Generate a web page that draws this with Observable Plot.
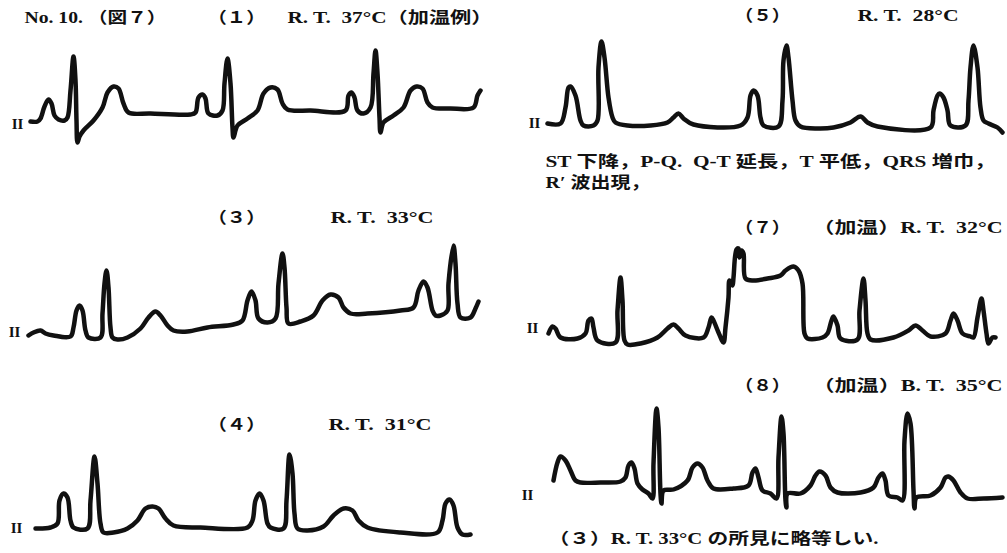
<!DOCTYPE html>
<html>
<head>
<meta charset="utf-8">
<script src="https://cdn.jsdelivr.net/npm/d3@7"></script>
<script src="https://cdn.jsdelivr.net/npm/@observablehq/plot@0.6"></script>
<style>
  html, body { margin: 0; padding: 0; background: #fff; }
  #chart { width: 1007px; height: 553px; overflow: hidden; }
</style>
</head>
<body>
<div id="chart"></div>
<script>
// ---- Trace data: t = time (sample units along the strip), v = amplitude above baseline ----
// (1) R.T. 37°C
const t1 = [0,7,10,14,18,21,24,28,34,37,40,43,45,46,47,49,53,63,72,77,83,88,93,98,120,160,165,168,172,175,178,187,192,194,197,200,202,203,207,217,227,233,240,247,252,257,280,315,318,321,324,327,333,340,343,345,347,349,350,353,363,373,380,386,392,397,402,420,443,447,450];
const v1 = [-1,-1,2,14,21,17,5,1,0,3,30,64,40,0,-22,-16,-10,0,13,28,34,32,17,8,7,6,8,23,26,22,7,5,10,37,62,37,-7,-17,-5,2,10,27,33,31,17,11,10,10,25,28,23,10,7,13,47,70,47,3,-12,-2,5,13,30,34,32,18,13,12,13,25,30];
// (5) R.T. 28°C
const t5 = [0,13,18,21,23,28,33,36,46,50,51,54,57,61,65,68,80,103,120,126,131,136,146,193,200,203,206,210,213,216,231,235,236,239,241,245,248,253,270,286,303,313,320,330,383,386,390,392,396,400,403,418,421,423,426,430,433,436,441,450,455];
const v5 = [2,2,18,38,39,30,5,0,0,5,58,84,68,28,8,3,0,0,3,8,12,7,1,0,8,30,35,30,8,0,-1,25,65,80,68,25,5,-1,-3,-2,3,9,3,-1,-2,15,30,32,28,15,0,0,25,58,80,58,18,5,2,-2,-7];
// (3) R.T. 33°C
const t3 = [0,5,12,17,25,42,45,48,51,54,57,60,72,74,76,78,80,82,84,89,99,112,120,127,132,139,145,159,179,205,214,219,223,227,230,239,247,250,254,256,258,260,272,285,294,302,310,315,322,339,372,385,390,395,399,404,407,412,419,420,425,427,429,432,442,447,450];
const v3 = [0,3,5,2,0,-1,8,25,30,25,5,-2,-2,22,52,65,48,8,-2,-4,-2,7,18,24,20,10,5,4,8,11,15,35,44,35,17,13,17,52,82,68,28,12,14,20,35,41,38,28,22,22,25,28,45,54,48,25,20,20,25,52,90,72,32,18,18,27,34];
// (4) R.T. 31°C
const t4 = [0,15,22,24,28,32,35,38,52,55,59,62,65,68,78,92,102,110,117,123,130,138,165,212,217,220,224,228,232,235,248,251,254,257,259,262,272,288,298,308,317,323,332,365,402,407,410,414,418,422,427,435];
const v4 = [0,1,5,28,35,31,8,1,0,28,72,45,5,-4,-4,0,8,20,22,20,10,3,1,1,8,28,35,28,5,1,0,28,74,55,15,0,-2,2,13,20,18,8,1,-4,-4,8,25,29,23,1,-6,-6];
// (7) (加温) R.T. 32°C
const t7 = [0,4,7,12,29,37,40,43,45,49,67,69,72,74,76,79,92,109,119,125,130,137,155,160,163,165,170,175,177,180,181,184,185,188,190,191,193,195,197,205,219,232,237,245,250,254,256,259,274,279,283,285,289,292,309,311,315,317,319,322,345,360,367,374,382,397,402,405,409,414,422,425,429,433,435,438,440,444,447];
const v7 = [4,11,9,0,-1,4,17,19,10,-3,-5,27,60,37,-3,-7,-6,0,9,13,9,2,0,10,20,17,5,-5,10,40,57,52,60,88,89,80,87,84,59,57,59,62,67,71,67,54,4,-1,0,4,17,21,12,-1,-2,27,59,37,4,-2,0,7,12,7,1,4,17,24,17,4,1,0,20,39,27,4,-6,0,0];
// (8) (加温) B.T. 35°C
const t8 = [0,4,7,12,17,22,27,47,67,72,75,78,81,84,89,95,99,100,103,105,107,108,110,120,134,139,144,149,154,160,180,195,199,202,205,209,217,223,225,228,230,232,233,234,247,257,262,266,272,277,284,307,320,325,329,332,335,344,349,351,354,357,360,361,363,377,387,392,395,400,407,414,430,449];
const v8 = [10,28,34,30,20,10,8,8,9,13,25,28,22,7,1,-3,-8,27,82,63,-3,-13,0,1,10,23,27,23,10,2,2,5,18,22,13,0,-3,-8,33,74,57,-10,-17,-3,-3,5,15,19,15,3,-2,-2,3,13,17,10,-5,-7,-10,50,77,67,0,-18,-7,-5,3,13,14,10,-2,-8,-8,-7];

// ---- Text ----
const stripLabel = "II";
const headerTexts = [
  "No. 10. （図７）", "（１）", "R. T.  37°C（加温例）",
  "（５）", "R. T.  28°C",
  "ST 下降，P-Q.  Q-T 延長，T 平低，QRS 増巾，", "R′ 波出現，",
  "（３）", "R. T.  33°C",
  "（７）", "（加温）R. T.  32°C",
  "（８）", "（加温）B. T.  35°C",
  "（４）", "R. T.  31°C",
  "（３）R. T. 33°C の所見に略等しい."
];

// ---- Layout (positions and text widths only) ----
const strips = [
  {t: t1, v: v1, left: 30,  base: 120, lab: [17, 124]},
  {t: t5, v: v5, left: 547, base: 125, lab: [534, 123]},
  {t: t3, v: v3, left: 28,  base: 335, lab: [14, 332]},
  {t: t7, v: v7, left: 548, base: 337, lab: [532, 328]},
  {t: t4, v: v4, left: 35,  base: 528, lab: [16, 528]},
  {t: t8, v: v8, left: 553, base: 490, lab: [527, 495]}
];
const textPos = [
  [24, 17, 142], [207, 17, 58], [287, 17, 205],
  [734, 15, 56], [857, 15, 101],
  [545, 161, 450], [545, 182, 105],
  [207, 217, 58], [330, 217, 103],
  [734, 227, 56], [812, 227, 190],
  [734, 385, 56], [812, 385, 190],
  [207, 424, 58], [328, 424, 103],
  [548, 538, 330]
];

const W = 1007, H = 553;
const font = "'Liberation Serif', 'Noto Sans CJK JP', serif";

const marks = [];
for (const s of strips) {
  const data = s.t.map((t, i) => ({t, v: s.v[i]}));
  marks.push(Plot.line(data, {
    x: d => s.left + d.t,
    y: d => s.base - d.v,
    curve: "catmull-rom",
    stroke: "#111",
    strokeWidth: 4.5,
    strokeLinejoin: "round",
    strokeLinecap: "round"
  }));
}
marks.push(Plot.text(strips, {
  x: d => d.lab[0], y: d => d.lab[1], text: () => stripLabel,
  fontFamily: "'Liberation Serif', serif", fontSize: 15, fontWeight: "bold",
  textAnchor: "middle", lineAnchor: "middle", fill: "#111"
}));
const textData = headerTexts.map((s, i) => ({s, x: textPos[i][0], y: textPos[i][1], w: textPos[i][2]}));
marks.push(Plot.text(textData, {
  x: "x", y: "y", text: "s",
  fontFamily: font, fontSize: 16, fontWeight: "bold",
  textAnchor: "start", lineAnchor: "middle", fill: "#111",
  className: "hdr"
}));

const chart = Plot.plot({
  width: W, height: H, margin: 0,
  x: {domain: [0, W], range: [0, W], axis: null},
  y: {domain: [0, H], range: [0, H], axis: null},
  marks
});
// stretch each label to the width it occupies in the original figure
d3.select(chart).selectAll("g.hdr text").each(function(_, i) {
  this.setAttribute("textLength", textData[i].w);
  this.setAttribute("lengthAdjust", "spacingAndGlyphs");
});
document.getElementById("chart").appendChild(chart);
</script>
</body>
</html>
